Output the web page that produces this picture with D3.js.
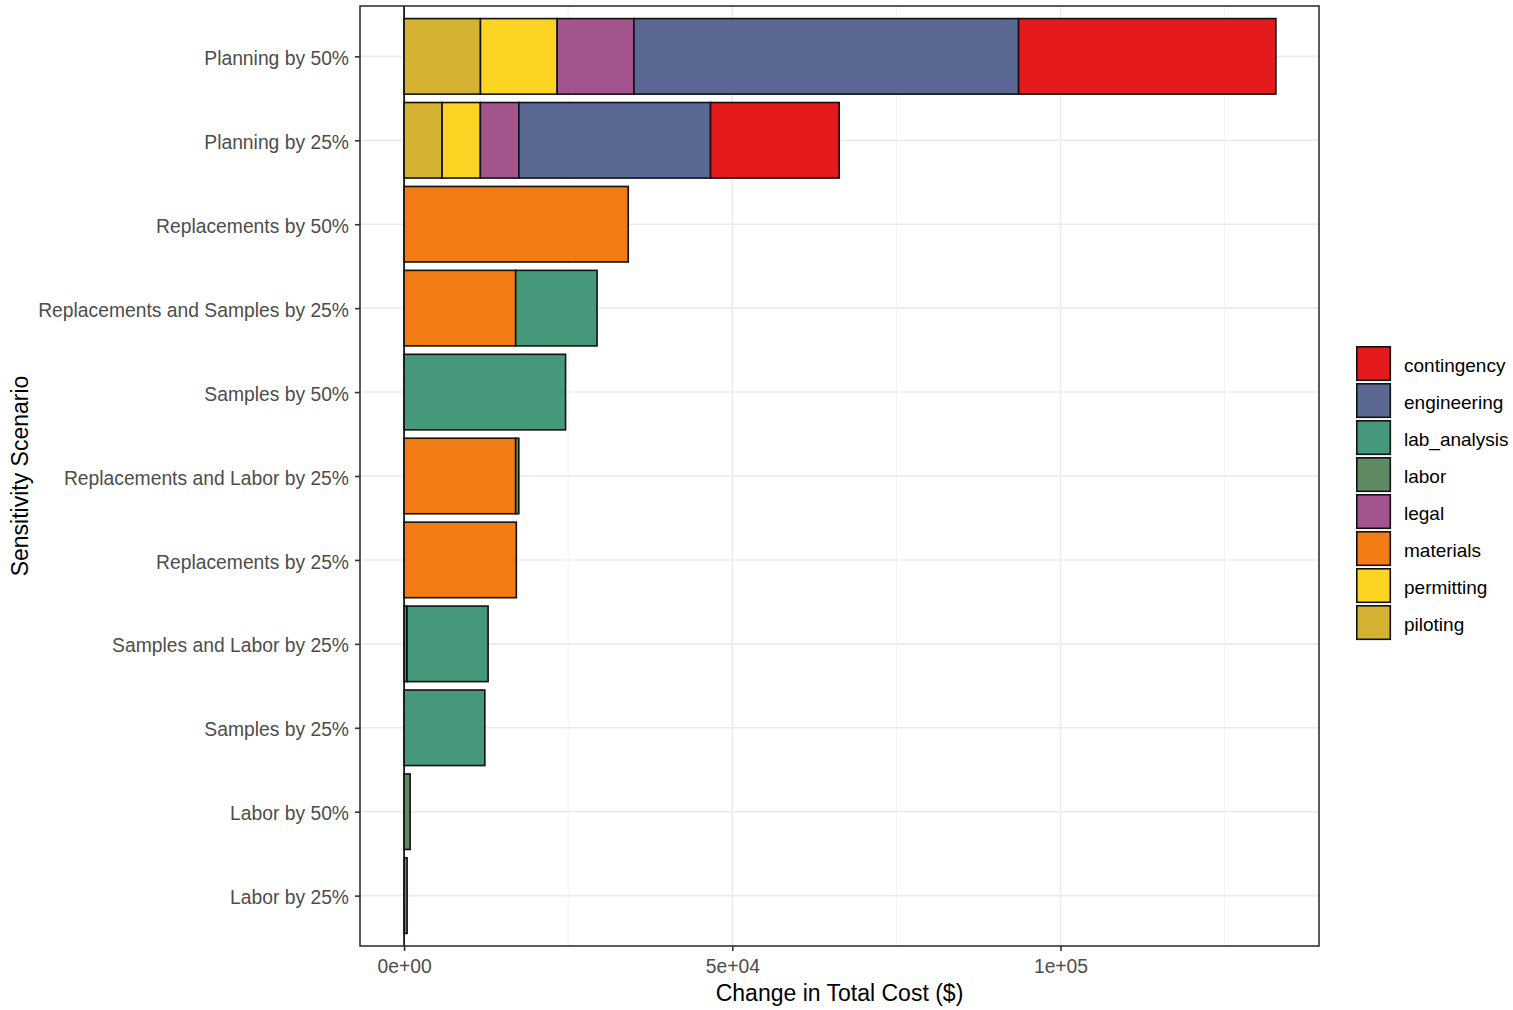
<!DOCTYPE html>
<html>
<head>
<meta charset="utf-8">
<script src="https://cdn.jsdelivr.net/npm/d3@7"></script>
<style>
  html, body { margin: 0; padding: 0; background: #fff; }
  svg { display: block; font-family: "Liberation Sans", Arial, sans-serif; }
</style>
</head>
<body>
<svg id="chart" width="1513" height="1010"></svg>
<script>
// ---------- data ----------
const scenarios = [
  "Planning by 50%",
  "Planning by 25%",
  "Replacements by 50%",
  "Replacements and Samples by 25%",
  "Samples by 50%",
  "Replacements and Labor by 25%",
  "Replacements by 25%",
  "Samples and Labor by 25%",
  "Samples by 25%",
  "Labor by 50%",
  "Labor by 25%"
];
const components = ["contingency", "engineering", "lab_analysis", "labor", "legal", "materials", "permitting", "piloting"];
const componentColors = ["#E41A1C", "#5B6893", "#459879", "#5F8A63", "#A3548D", "#F27B13", "#FED424", "#D6B232"];

const contingency  = [39200, 19600, 0, 0, 0, 0, 0, 0, 0, 0, 0];
const engineering  = [58600, 29200, 0, 0, 0, 0, 0, 0, 0, 0, 0];
const lab_analysis = [0, 0, 0, 12400, 24600, 0, 0, 12350, 12300, 0, 0];
const labor        = [0, 0, 0, 0, 0, 480, 0, 450, 0, 920, 460];
const legal        = [11700, 5870, 0, 0, 0, 0, 0, 0, 0, 0, 0];
const materials    = [0, 0, 34150, 17000, 0, 17000, 17100, 0, 0, 0, 0];
const permitting   = [11680, 5830, 0, 0, 0, 0, 0, 0, 0, 0, 0];
const piloting     = [11640, 5790, 0, 0, 0, 0, 0, 0, 0, 0, 0];

const xTicks = [0, 50000, 100000];
const xTickLabels = ["0e+00", "5e+04", "1e+05"];
const xMinorTicks = [25000, 75000, 125000];

const seriesValues = { contingency, engineering, lab_analysis, labor, legal, materials, permitting, piloting };

// ---------- layout ----------
const svg = d3.select("#chart");
const panel = { left: 360, right: 1319, top: 6, bottom: 946 };

const rows = scenarios.map((s, i) => {
  const r = { scenario: s };
  components.forEach(c => r[c] = seriesValues[c][i]);
  return r;
});

// stacking: last factor level closest to zero (ggplot position_stack)
const stackOrder = components.slice().reverse();
const stacked = d3.stack().keys(stackOrder)(rows);

const xMax = d3.max(rows, r => d3.sum(components, c => r[c]));
const pad = xMax * 0.05;
const x = d3.scaleLinear().domain([-pad, xMax + pad]).range([panel.left + 0.5, panel.right + 0.5]);

// discrete expansion 0.6 units each side
const n = scenarios.length;
const unit = (panel.bottom - panel.top) / (n - 1 + 1.2);
const yCenter = d3.scalePoint().domain(scenarios)
  .range([panel.top + 0.6 * unit, panel.bottom - 0.6 * unit]);
const barH = unit * 0.9;

const color = d3.scaleOrdinal().domain(components).range(componentColors);

// grid
const g = svg.append("g");
g.selectAll("line.minor").data(xMinorTicks).enter().append("line")
  .attr("x1", d => x(d)).attr("x2", d => x(d))
  .attr("y1", panel.top).attr("y2", panel.bottom)
  .attr("stroke", "#F2F2F2").attr("stroke-width", 1);
g.selectAll("line.majorx").data(xTicks).enter().append("line")
  .attr("x1", d => x(d)).attr("x2", d => x(d))
  .attr("y1", panel.top).attr("y2", panel.bottom)
  .attr("stroke", "#EBEBEB").attr("stroke-width", 1.6);
g.selectAll("line.majory").data(scenarios).enter().append("line")
  .attr("x1", panel.left).attr("x2", panel.right)
  .attr("y1", d => yCenter(d)).attr("y2", d => yCenter(d))
  .attr("stroke", "#EBEBEB").attr("stroke-width", 1.6);

// vertical line at zero
g.append("line")
  .attr("x1", x(0)).attr("x2", x(0))
  .attr("y1", panel.top).attr("y2", panel.bottom)
  .attr("stroke", "#000").attr("stroke-width", 1.6);

// bars
stacked.forEach(layer => {
  const key = layer.key;
  g.selectAll(null).data(layer.filter(d => d[1] - d[0] > 0)).enter().append("rect")
    .attr("x", d => x(d[0]))
    .attr("width", d => x(d[1]) - x(d[0]))
    .attr("y", d => yCenter(d.data.scenario) - barH / 2)
    .attr("height", barH)
    .attr("fill", color(key))
    .attr("stroke", "#111")
    .attr("stroke-width", 1.6);
});

// panel border
svg.append("rect")
  .attr("x", panel.left).attr("y", panel.top)
  .attr("width", panel.right - panel.left).attr("height", panel.bottom - panel.top)
  .attr("fill", "none").attr("stroke", "#333").attr("stroke-width", 1.6);

// x axis
const xAxis = d3.axisBottom(x).tickValues(xTicks)
  .tickFormat((d, i) => xTickLabels[i]).tickSize(5).tickSizeOuter(0);
const xa = svg.append("g").attr("transform", `translate(0,${panel.bottom})`).call(xAxis);
xa.select(".domain").remove();
xa.selectAll(".tick line").attr("stroke", "#333").attr("stroke-width", 1.6);
xa.selectAll(".tick text").attr("fill", "#4D4D4D").attr("font-size", 19.3)
  .attr("font-family", "Liberation Sans, Arial, sans-serif").attr("dy", "0.95em").attr("y", 9);

// y axis
const yAxis = d3.axisLeft(yCenter).tickSize(5).tickSizeOuter(0);
const ya = svg.append("g").attr("transform", `translate(${panel.left},0)`).call(yAxis);
ya.select(".domain").remove();
ya.selectAll(".tick line").attr("stroke", "#333").attr("stroke-width", 1.6);
ya.selectAll(".tick text").attr("fill", "#4D4D4D").attr("font-size", 19.3)
  .attr("font-family", "Liberation Sans, Arial, sans-serif").attr("x", -11).attr("dy", "0.42em");

// axis titles
svg.append("text")
  .attr("x", (panel.left + panel.right) / 2).attr("y", 1001)
  .attr("text-anchor", "middle").attr("font-size", 23).attr("fill", "#000")
  .text("Change in Total Cost ($)");
svg.append("text")
  .attr("transform", `translate(28,${(panel.top + panel.bottom) / 2}) rotate(-90)`)
  .attr("text-anchor", "middle").attr("font-size", 23).attr("fill", "#000")
  .text("Sensitivity Scenario");

// legend
const legend = svg.append("g").attr("transform", "translate(1356,346)");
const keyStep = 37;
components.forEach((c, i) => {
  const row = legend.append("g").attr("transform", `translate(0,${i * keyStep})`);
  row.append("rect").attr("x", 0.8).attr("y", 0.8).attr("width", 33.5).attr("height", 33.5)
    .attr("fill", color(c)).attr("stroke", "#111").attr("stroke-width", 1.6);
  row.append("text").attr("x", 48).attr("y", 19).attr("dy", "0.35em")
    .attr("font-size", 19).attr("fill", "#000").text(c);
});
</script>
</body>
</html>
